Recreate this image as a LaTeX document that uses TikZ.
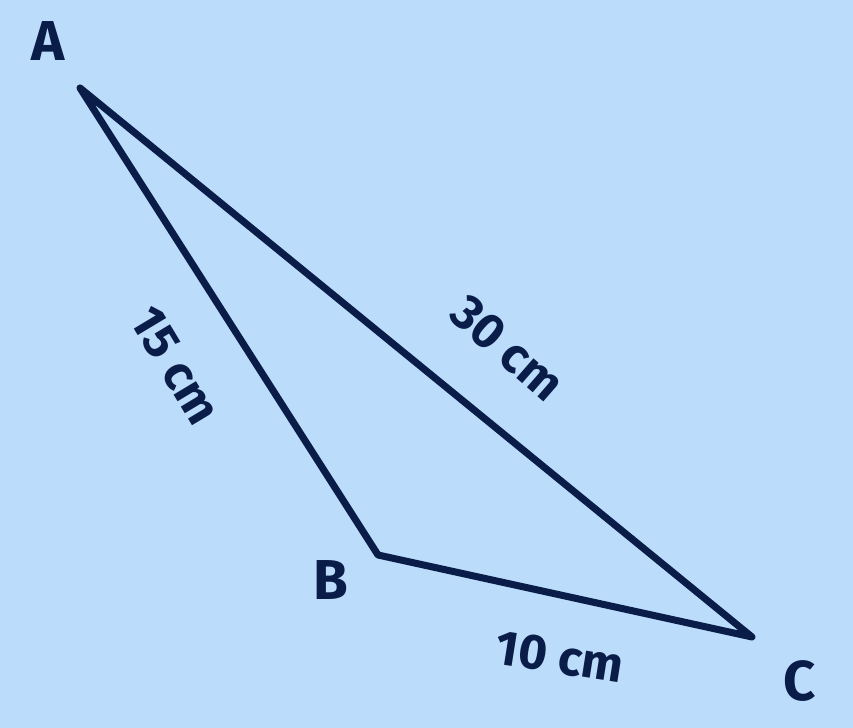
\documentclass[tikz,border=0pt]{standalone}
\usepackage{fontspec}
\setmainfont{Fira Sans}
\usepackage{tikz}
\usetikzlibrary{backgrounds}
\definecolor{paper}{RGB}{187,220,251}
\definecolor{ink}{RGB}{10,28,72}
\tikzset{
 vtx/.style
  = {text=ink, font=\fontsize{32}{38}\selectfont\bfseries},
 len/.style
  = {text=ink, font=\fontsize{28}{34}\selectfont\bfseries, inner sep=0pt},
 side/.style
  = {draw=ink, line width=4pt, line cap=round, line join=round},
}

\begin{document}
\begin{tikzpicture}

% Background
\fill[paper] (0,0) rectangle (17.06,14.56);
\useasboundingbox (0,0) rectangle (17.06,14.56);

% Corners
\coordinate (A) at (1.6,12.8);
\coordinate (B) at (7.56,3.46);
\coordinate (C) at (15.04,1.82);

% Triangle
\draw[side] (A) -- (B) -- (C) -- cycle;

% Vertex labels
\node[vtx] (lA) at (0.96,13.74) {A};
\node[vtx] (lB) at (6.62,2.96) {B};
\node[vtx] (lC) at (16.0,0.94) {C};

% Side lengths
\node[len,rotate=-59] (lAB) at (3.5,7.25) {15 cm};
\node[len,rotate=-41] (lAC) at (10.15,7.6) {30 cm};
\node[len,rotate=-9] (lBC) at (11.2,1.42) {10 cm};

\end{tikzpicture}
\end{document}
